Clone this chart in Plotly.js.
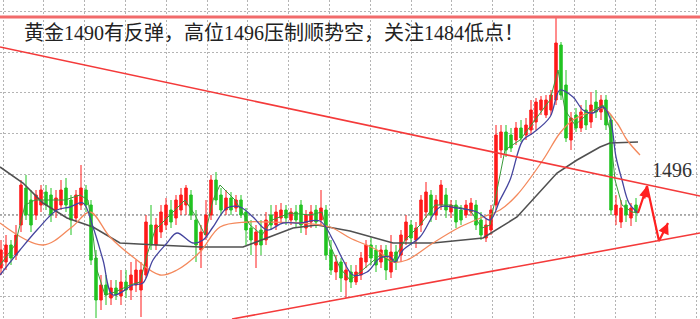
<!DOCTYPE html>
<html>
<head>
<meta charset="utf-8">
<script src="https://cdn.plot.ly/plotly-3.0.1.min.js"></script>
<style>html,body{margin:0;padding:0;background:#fff;}#chart{width:700px;height:319px;}</style>
</head>
<body>
<div id="chart"></div>
<script>
// Candle data (index, open, high, low, close)
const open = [1483.2,1483.8,1485.5,1484.5,1487.5,1491.2,1490.0,1488.5,1489.5,1490.8,
1490.5,1489.0,1489.5,1491.2,1490.0,1488.2,1489.5,1491.0,1489.5,1484.2,
1480.0,1481.5,1480.2,1481.2,1480.4,1481.8,1481.0,1481.5,1481.0,1482.5,
1487.5,1485.5,1486.8,1487.5,1489.0,1488.2,1489.0,1489.5,1490.5,1488.0,
1485.0,1486.5,1488.5,1492.0,1490.5,1489.0,1490.2,1489.2,1490.0,1488.8,
1487.2,1485.5,1487.0,1486.0,1488.5,1487.5,1488.2,1489.0,1488.0,1488.8,
1489.5,1487.2,1487.8,1489.0,1488.0,1489.0,1485.0,1482.8,1483.8,1482.0,
1482.8,1481.8,1482.5,1483.8,1485.5,1485.0,1483.8,1485.0,1482.8,1484.8,
1484.5,1486.0,1487.5,1486.0,1487.5,1488.8,1490.5,1488.5,1489.5,1490.5,
1488.8,1489.5,1489.0,1488.5,1488.8,1489.5,1488.0,1486.2,1487.0,1489.5,
1495.0,1496.8,1496.5,1496.0,1497.2,1496.5,1497.0,1497.8,1499.0,1498.5,
1499.0,1500.0,1505.5,1501.5,1496.0,1498.5,1497.2,1499.0,1497.8,1499.8,
1498.8,1500.0,1498.0,1488.5,1487.8,1489.5,1488.2,1489.5];
const high = [1486.0,1486.5,1486.0,1487.5,1492.0,1492.5,1491.0,1491.0,1491.5,1491.5,
1491.2,1491.0,1492.0,1492.2,1490.5,1491.0,1493.5,1491.5,1490.0,1485.0,
1482.5,1482.5,1482.0,1482.0,1483.0,1483.0,1483.8,1484.0,1483.8,1488.5,
1489.5,1488.2,1489.5,1490.2,1490.0,1490.5,1491.2,1491.5,1491.0,1489.0,
1487.5,1490.0,1492.5,1492.8,1491.2,1491.0,1490.8,1490.5,1490.5,1489.2,
1488.0,1487.5,1488.0,1488.8,1489.5,1489.5,1489.7,1489.5,1489.2,1489.5,
1490.0,1489.0,1489.5,1489.5,1491.0,1489.5,1486.0,1484.5,1484.2,1483.8,
1483.5,1483.5,1484.8,1486.0,1486.2,1485.5,1485.5,1485.5,1486.5,1485.5,
1487.0,1488.5,1488.0,1487.8,1490.5,1491.8,1491.0,1490.5,1492.0,1491.2,
1490.0,1490.0,1489.5,1490.0,1490.2,1490.0,1488.8,1488.2,1489.5,1497.5,
1497.5,1497.5,1497.2,1497.8,1498.0,1498.2,1500.0,1500.2,1500.4,1500.5,
1501.0,1508.3,1505.8,1503.0,1498.8,1499.2,1499.5,1500.0,1500.8,1501.0,
1500.5,1500.5,1498.5,1490.5,1490.0,1490.0,1489.7,1490.2];
const low = [1482.5,1483.0,1483.5,1484.0,1486.8,1488.0,1486.8,1488.0,1488.8,1489.0,
1487.8,1488.2,1489.0,1488.8,1486.5,1487.8,1489.0,1488.8,1483.5,1478.2,
1479.0,1479.5,1479.5,1480.0,1479.5,1480.2,1480.0,1480.8,1478.3,1482.2,
1485.0,1485.0,1486.2,1487.0,1487.2,1487.5,1488.5,1488.5,1488.0,1483.8,
1483.2,1486.0,1488.0,1489.5,1488.5,1488.5,1488.5,1488.8,1488.2,1485.5,
1484.5,1483.2,1484.5,1485.5,1487.0,1487.0,1487.8,1487.5,1487.5,1487.2,
1486.7,1486.5,1487.2,1487.2,1487.5,1484.0,1482.5,1482.0,1480.8,1480.2,
1481.2,1481.5,1482.0,1483.2,1483.5,1482.8,1483.2,1482.0,1482.2,1483.0,
1483.8,1485.5,1485.5,1485.2,1486.8,1488.2,1487.8,1488.0,1489.0,1488.2,
1488.2,1487.2,1487.5,1488.2,1488.4,1487.0,1486.0,1485.8,1486.5,1489.0,
1494.2,1494.3,1494.8,1495.5,1495.8,1496.0,1496.5,1497.0,1498.5,1498.2,
1498.5,1499.5,1500.0,1495.8,1495.0,1496.8,1496.8,1497.0,1497.2,1498.2,
1498.0,1497.0,1488.5,1487.5,1487.2,1487.8,1487.4,1487.8];
const close = [1485.0,1485.5,1484.2,1486.5,1491.5,1488.5,1487.5,1490.5,1491.0,1489.5,
1488.5,1490.2,1491.0,1489.5,1488.0,1490.5,1491.2,1489.5,1484.0,1480.0,
1481.5,1480.5,1481.2,1480.5,1481.8,1481.0,1482.5,1483.0,1483.0,1487.8,
1485.5,1487.5,1488.8,1489.5,1487.8,1490.0,1490.5,1491.2,1488.5,1485.5,
1486.8,1488.5,1492.0,1490.0,1489.0,1490.2,1489.0,1490.0,1488.5,1487.0,
1486.0,1486.8,1485.5,1488.0,1487.5,1488.8,1489.0,1488.2,1488.8,1488.0,
1487.5,1488.5,1488.8,1487.8,1489.2,1484.5,1483.0,1483.8,1482.2,1483.0,
1481.8,1482.8,1484.2,1485.5,1484.2,1483.5,1485.0,1483.0,1484.8,1483.8,
1486.5,1487.8,1486.2,1487.2,1490.0,1490.8,1488.5,1490.0,1491.5,1489.0,
1489.5,1487.8,1488.0,1489.5,1489.7,1487.5,1486.5,1487.5,1489.0,1496.5,
1496.8,1495.0,1495.2,1497.2,1496.2,1497.5,1499.0,1499.8,1500.0,1500.0,
1500.5,1505.7,1500.5,1496.2,1498.2,1497.2,1498.8,1497.5,1499.5,1498.8,
1500.0,1497.5,1489.0,1489.5,1489.2,1488.5,1489.2,1488.8];

// Moving averages (bar index, price)
const maLongX = [-0.2,4.4,8.4,13.2,18.4,23.8,31.2,39.8,48.4,53.2,58.4,63.2,69.8,78.4,86.4,96.4,103.2,111.2,115.2,119.8,121.8,127.4];
const maLongY = [1493.3,1491.7,1489.7,1488.2,1487.3,1485.7,1485.5,1485.3,1485.3,1486.2,1487.2,1487.5,1486.9,1485.7,1485.7,1486.2,1488.3,1492.7,1494.0,1495.3,1495.7,1495.8];
const maMidX = [-0.2,8.4,14.2,17.8,21.8,26.4,31.8,35.2,39.8,43.8,49.2,53.2,59.8,65.8,69.8,75.2,78.4,81.2,86.4,91.8,96.4,99.8,103.2,108.4,111.8,114.4,117.8,120.4,123.2,125.2,127.8];
const maMidY = [1487.7,1485.5,1487.3,1488.8,1486.3,1484.3,1482.5,1483.0,1484.8,1487.3,1487.8,1487.8,1487.7,1487.3,1486.2,1485.0,1483.8,1484.0,1485.7,1487.3,1488.3,1489.0,1490.5,1494.0,1496.7,1498.0,1498.8,1499.2,1497.7,1496.0,1494.5];
const ma10X = [-0.2,3.8,7.2,11.2,13.8,16.4,18.4,20.4,22.4,26.4,28.4,30.4,33.2,35.2,38.4,40.4,42.4,45.2,47.8,50.4,53.2,56.4,59.8,63.8,66.4,68.4,70.4,73.2,75.8,77.8,78.8,80.4,83.8,87.8,91.2,95.2,97.8,99.8,101.8,104.4,106.4,109.8,111.8,114.4,116.4,118.4,120.4,121.8,123.0,124.2,125.6,127.4];
const ma10Y = [1482.5,1485.0,1487.0,1489.0,1489.3,1489.7,1487.3,1484.0,1480.5,1481.5,1481.7,1484.0,1485.7,1486.7,1485.7,1486.0,1487.3,1489.2,1489.3,1488.3,1487.0,1487.7,1487.7,1487.9,1486.0,1484.0,1482.5,1482.8,1484.2,1484.3,1483.8,1485.0,1486.3,1489.3,1489.2,1488.8,1488.0,1490.0,1492.0,1496.0,1496.7,1498.3,1501.0,1500.3,1499.0,1498.7,1499.3,1498.2,1494.3,1492.0,1489.7,1488.7];
const ma5X = [-0.2,2.8,4.8,6.8,9.8,12.8,15.8,17.4,18.4,19.2,20.8,22.8,25.8,27.8,29.2,30.8,33.8,36.8,38.8,40.8,42.4,43.8,46.8,49.8,52.2,54.2,57.8,61.8,64.2,65.8,67.8,69.8,72.8,75.8,78.2,80.8,83.8,86.8,89.8,93.8,96.2,97.8,99.2,100.8,103.8,106.8,109.8,111.4,112.8,114.8,117.8,120.4,121.8,122.8,124.2,126.2,127.4];
const ma5Y = [1483.5,1485.5,1489.5,1490.0,1490.0,1490.0,1490.5,1490.0,1486.5,1483.0,1480.5,1480.8,1481.5,1481.8,1484.5,1487.0,1488.5,1490.0,1488.5,1486.5,1490.0,1491.5,1490.0,1487.5,1486.5,1488.0,1488.7,1488.5,1488.8,1485.5,1483.2,1482.0,1483.2,1484.5,1483.8,1486.0,1487.5,1489.5,1489.5,1489.0,1487.2,1487.5,1491.0,1495.0,1496.0,1498.0,1500.0,1503.0,1499.0,1497.5,1498.8,1499.5,1497.0,1492.0,1489.5,1488.8,1488.7];

// Forecast path and labels
const pathX = [127.4,129.2,131.6,133.4];
const pathY = [1488.7,1491.4,1485.9,1487.7];
const titleText = "黄金1490有反弹，高位1496压制顺势空，关注1484低点！";
const levelLabel = "1496";
const topLine = 1508.3;
const downTrend = {x0:-0.2, y0:1505.3, x1:139.8, y1:1490.4};
const upTrend = {x0:46.2, y0:1478.1, x1:139.8, y1:1486.7};

const idx = open.map((_, i) => i);

const traces = [
  {type:'scatter', mode:'lines', x:maLongX, y:maLongY, line:{color:'#505050', width:1.6}, hoverinfo:'skip'},
  {type:'scatter', mode:'lines', x:maMidX, y:maMidY, line:{color:'#f4895c', width:1.3, shape:'spline'}, hoverinfo:'skip'},
  {type:'candlestick', x:idx, open:open, high:high, low:low, close:close,
   increasing:{line:{color:'#ff1a1a', width:1}, fillcolor:'#ff1a1a'},
   decreasing:{line:{color:'#22c422', width:1}, fillcolor:'#22c422'},
   whiskerwidth:0, hoverinfo:'skip'},
  {type:'scatter', mode:'lines', x:ma5X, y:ma5Y, line:{color:'#3a9a3a', width:1}, hoverinfo:'skip'},
  {type:'scatter', mode:'lines', x:ma10X, y:ma10Y, line:{color:'#45459e', width:1.3, shape:'spline'}, hoverinfo:'skip'},
  {type:'scatter', mode:'lines', x:pathX, y:pathY, line:{color:'#ff2020', width:2.2}, hoverinfo:'skip'}
];

const layout = {
  width:700, height:319,
  margin:{l:0, r:0, t:0, b:0},
  paper_bgcolor:'#ffffff', plot_bgcolor:'#ffffff',
  showlegend:false,
  xaxis:{range:[-0.2,139.8], showticklabels:false, ticks:'', zeroline:false,
         showgrid:true, gridcolor:'#b4b4b4', griddash:'2px,2px', gridwidth:1,
         tick0:0.4, dtick:8.16, rangeslider:{visible:false}, fixedrange:true},
  yaxis:{range:[1478.1,1510], showticklabels:false, ticks:'', zeroline:false,
         showgrid:true, gridcolor:'#b4b4b4', griddash:'2px,2px', gridwidth:1,
         tick0:1488.5, dtick:4.07, fixedrange:true},
  shapes:[
    {type:'line', xref:'paper', x0:0, x1:1, yref:'y', y0:1488.5, y1:1488.5, line:{color:'#a8a8a8', width:2, dash:'2px,2px'}, layer:'below'},
    {type:'line', xref:'paper', x0:0, x1:1, yref:'y', y0:topLine, y1:topLine, line:{color:'#f26b6b', width:3}},
    {type:'line', xref:'x', yref:'y', x0:downTrend.x0, y0:downTrend.y0, x1:downTrend.x1, y1:downTrend.y1, line:{color:'#f43a3a', width:1.6}},
    {type:'line', xref:'x', yref:'y', x0:upTrend.x0, y0:upTrend.y0, x1:upTrend.x1, y1:upTrend.y1, line:{color:'#f43a3a', width:1.6}}
  ],
  annotations:[
    {xref:'paper', yref:'paper', x:0.031, y:0.897, xanchor:'left', yanchor:'middle', showarrow:false,
     text:titleText, font:{family:'Liberation Serif, Noto Sans CJK SC, serif', size:20, color:'#222222'}},
    {xref:'paper', yref:'paper', x:0.929, y:0.467, xanchor:'left', yanchor:'middle', showarrow:false,
     text:levelLabel, font:{family:'Liberation Serif, serif', size:20, color:'#333333'}},
    {xref:'x', yref:'y', axref:'x', ayref:'y', x:pathX[1], y:pathY[1], ax:128.6, ay:1490.0, text:'',
     showarrow:true, arrowhead:2, arrowsize:1, arrowwidth:2.2, arrowcolor:'#ff2020'},
    {xref:'x', yref:'y', axref:'x', ayref:'y', x:pathX[3], y:pathY[3], ax:132.7, ay:1486.9, text:'',
     showarrow:true, arrowhead:2, arrowsize:1, arrowwidth:2.2, arrowcolor:'#ff2020'}
  ]
};

Plotly.newPlot('chart', traces, layout, {staticPlot:true, displayModeBar:false});
</script>
</body>
</html>
